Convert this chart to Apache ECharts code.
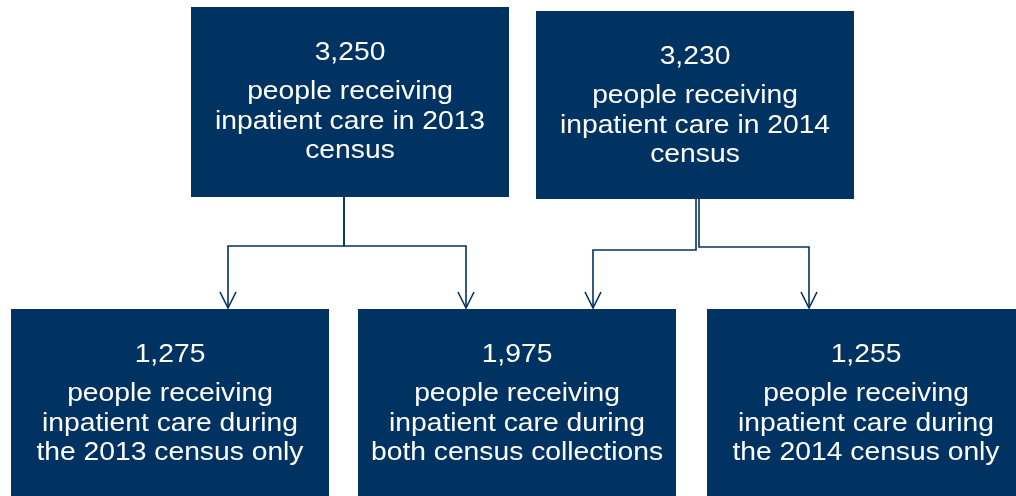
<!DOCTYPE html>
<html>
<head>
<meta charset="utf-8">
<script src="https://cdn.jsdelivr.net/npm/echarts@6/dist/echarts.min.js"></script>
<style>
html,body{margin:0;padding:0;background:#fff;}
#c{width:1016px;height:496px;}
</style>
</head>
<body>
<div id="c"></div>
<script>
// ---- data ----
const counts = [3250, 3230, 1275, 1975, 1255];
const descriptions = [
  ['people receiving', 'inpatient care in 2013', 'census'],
  ['people receiving', 'inpatient care in 2014', 'census'],
  ['people receiving', 'inpatient care during', 'the 2013 census only'],
  ['people receiving', 'inpatient care during', 'both census collections'],
  ['people receiving', 'inpatient care during', 'the 2014 census only']
];
const links = [[0, 2], [0, 3], [1, 3], [1, 4]];

// ---- layout (positions / sizes) ----
const boxes = [
  {x: 191, y: 7,   w: 318, h: 190},
  {x: 536, y: 11,  w: 318, h: 188},
  {x: 11,  y: 309, w: 318, h: 200},
  {x: 358, y: 309, w: 318, h: 200},
  {x: 707, y: 309, w: 318, h: 200}
];
// connector geometry per link: [stemX, barY, dropX]
const routes = [
  [344, 246, 228],
  [344, 246, 466],
  [696, 250, 593],
  [699, 247, 809]
];

const NAVY = '#003361';
const FONT = '"Liberation Sans", Arial, sans-serif';
const FS = 25, SX = 1.13;

const chart = echarts.init(document.getElementById('c'), null, {renderer: 'canvas'});
const els = [];

boxes.forEach((b, i) => {
  els.push({type: 'rect', shape: {x: b.x, y: b.y, width: b.w, height: b.h},
    style: {fill: NAVY}, z: 1});
  const cx = b.x + b.w / 2;
  const top = b.y;
  // baselines relative to box top
  const off = i < 2 ? [54, 93, 123, 152] : [54, 93, 123, 152];
  const lines = [counts[i].toLocaleString('en-US')].concat(descriptions[i]);
  lines.forEach((t, k) => {
    els.push({type: 'text', x: cx, y: top + off[k] - 8, scaleX: SX, z: 3,
      style: {text: t, x: 0, y: 0, align: 'center', verticalAlign: 'middle',
        fill: '#ffffff', font: FS + 'px ' + FONT}});
  });
});

links.forEach((l, j) => {
  const src = boxes[l[0]], dst = boxes[l[1]];
  const r = routes[j];
  const y0 = src.y + src.h, y1 = dst.y - 1;
  els.push({type: 'polyline', z: 2,
    shape: {points: [[r[0], y0], [r[0], r[1]], [r[2], r[1]], [r[2], y1]]},
    style: {stroke: NAVY, lineWidth: 1.6, fill: null}});
  els.push({type: 'polyline', z: 2,
    shape: {points: [[r[2] - 8, y1 - 16], [r[2], y1], [r[2] + 8, y1 - 16]]},
    style: {stroke: NAVY, lineWidth: 1.6, fill: null}});
});

chart.setOption({backgroundColor: '#ffffff', animation: false, graphic: {elements: els}});
</script>
</body>
</html>
